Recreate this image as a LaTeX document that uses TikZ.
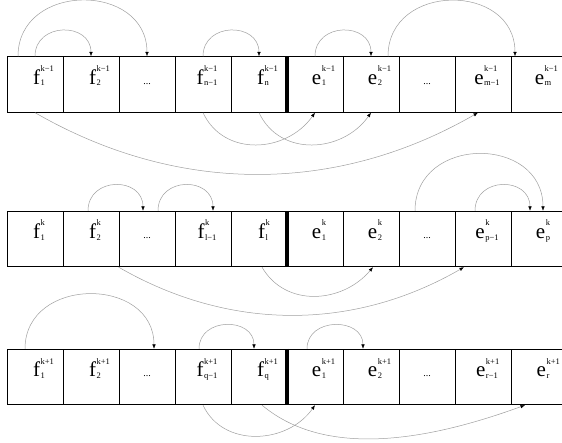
\documentclass[tikz,border=0pt]{standalone}
\usepackage{fontspec}
\setmainfont{Liberation Serif}
\usepackage{tikz}
\usetikzlibrary{arrows.meta}

% letter with its upper and lower index
\newcommand{\lab}[3]{\hspace*{8pt}{\fontsize{21}{21}\selectfont #1}\kern0.5pt{\fontsize{8.5}{9}\selectfont\rlap{\raisebox{13pt}{#2}}\raisebox{-1.5pt}{#3}}}
\newcommand{\dotlab}{{\fontsize{10}{10}\selectfont ...}}

\begin{document}
\begin{tikzpicture}[x=1pt,y=1pt,
		cell/.style={draw, line width=0.8pt, minimum width=56pt, minimum height=55.5pt, inner sep=0pt, text height=6pt, text depth=6pt},
		arc/.style={gray!75, line width=0.5pt, -{Latex[length=4.5pt,width=3.5pt,color=black]}},
		bar/.style={line width=4pt}
		]
		\useasboundingbox (0,0) rectangle (562,-443);
		% row k-1
		\node[cell] (a1) at (35,-84.5) {\lab{f}{k−1}{1}};
		\node[cell] (a2) at (91,-84.5) {\lab{f}{k−1}{2}};
		\node[cell] (a3) at (147,-84.5) {\dotlab};
		\node[cell] (a4) at (203,-84.5) {\lab{f}{k−1}{n−1}};
		\node[cell] (a5) at (259,-84.5) {\lab{f}{k−1}{n}};
		\node[cell] (a6) at (315,-84.5) {\lab{e}{k−1}{1}};
		\node[cell] (a7) at (371,-84.5) {\lab{e}{k−1}{2}};
		\node[cell] (a8) at (427,-84.5) {\dotlab};
		\node[cell] (a9) at (483,-84.5) {\lab{e}{k−1}{m−1}};
		\node[cell] (a10) at (539,-84.5) {\lab{e}{k−1}{m}};
		\draw[bar] (a6.north west) -- (a6.south west);
		
		\draw[arc] ([xshift=-17pt]a1.north) to[out=90,in=90,looseness=1.48] (a3.north);
		\draw[arc] (a1.north) to[out=90,in=90,looseness=1.58] (a2.north);
		\draw[arc] (a4.north) to[out=90,in=90,looseness=1.58] (a5.north);
		\draw[arc] (a6.north) to[out=90,in=90,looseness=1.58] (a7.north);
		\draw[arc] ([xshift=17pt]a7.north) to[out=90,in=90,looseness=1.5] ([xshift=-24pt]a10.north);
		\draw[arc] (a1.south) to[out=-30,in=-150,looseness=0.95] ([xshift=-5pt]a9.south);
		\draw[arc] (a4.south) to[out=-65,in=-125,looseness=1.13] (a6.south);
		\draw[arc] (a5.south) to[out=-65,in=-125,looseness=1.13] (a7.south);
		
		% row k
		\node[cell] (b1) at (35,-239) {\lab{f}{k}{1}};
		\node[cell] (b2) at (91,-239) {\lab{f}{k}{2}};
		\node[cell] (b3) at (147,-239) {\dotlab};
		\node[cell] (b4) at (203,-239) {\lab{f}{k}{l−1}};
		\node[cell] (b5) at (259,-239) {\lab{f}{k}{l}};
		\node[cell] (b6) at (315,-239) {\lab{e}{k}{1}};
		\node[cell] (b7) at (371,-239) {\lab{e}{k}{2}};
		\node[cell] (b8) at (427,-239) {\dotlab};
		\node[cell] (b9) at (483,-239) {\lab{e}{k}{p−1}};
		\node[cell] (b10) at (539,-239) {\lab{e}{k}{p}};
		\draw[bar] (b6.north west) -- (b6.south west);
		
		\draw[arc] ([xshift=-3pt]b2.north) to[out=90,in=90,looseness=1.61] ([xshift=-4pt]b3.north);
		\draw[arc] ([xshift=11pt]b3.north) to[out=90,in=90,looseness=1.61] ([xshift=10pt]b4.north);
		\draw[arc] ([xshift=-12pt]b8.north) to[out=90,in=90,looseness=1.52] ([xshift=4pt]b10.north);
		\draw[arc] ([xshift=-8pt]b9.north) to[out=90,in=90,looseness=1.61] ([xshift=-9pt]b10.north);
		\draw[arc] ([xshift=3pt]b5.south) to[out=-60,in=-130,looseness=1.09] ([xshift=2pt]b7.south);
		\draw[arc] (b3.south west) to[out=-30,in=-150,looseness=0.95] ([xshift=-19pt]b9.south);
		
		% row k+1
		\node[cell] (c1) at (35,-377) {\lab{f}{k+1}{1}};
		\node[cell] (c2) at (91,-377) {\lab{f}{k+1}{2}};
		\node[cell] (c3) at (147,-377) {\dotlab};
		\node[cell] (c4) at (203,-377) {\lab{f}{k+1}{q−1}};
		\node[cell] (c5) at (259,-377) {\lab{f}{k+1}{q}};
		\node[cell] (c6) at (315,-377) {\lab{e}{k+1}{1}};
		\node[cell] (c7) at (371,-377) {\lab{e}{k+1}{2}};
		\node[cell] (c8) at (427,-377) {\dotlab};
		\node[cell] (c9) at (483,-377) {\lab{e}{k+1}{r−1}};
		\node[cell] (c10) at (539,-377) {\lab{e}{k+1}{r}};
		\draw[bar] (c6.north west) -- (c6.south west);
		
		\draw[arc] ([xshift=-10pt]c1.north) to[out=90,in=90,looseness=1.45] ([xshift=7pt]c3.north);
		\draw[arc] ([xshift=-4pt]c4.north) to[out=90,in=90,looseness=1.49] ([xshift=-5pt]c5.north);
		\draw[arc] ([xshift=-8pt]c6.north) to[out=90,in=90,looseness=1.46] ([xshift=-8pt]c7.north);
		\draw[arc] (c4.south) to[out=-65,in=-125,looseness=1.09] (c6.south);
		\draw[arc] ([xshift=3pt]c5.south) to[out=-40,in=-160,looseness=0.87] ([xshift=-14pt]c10.south);
	\end{tikzpicture}
\end{document}
